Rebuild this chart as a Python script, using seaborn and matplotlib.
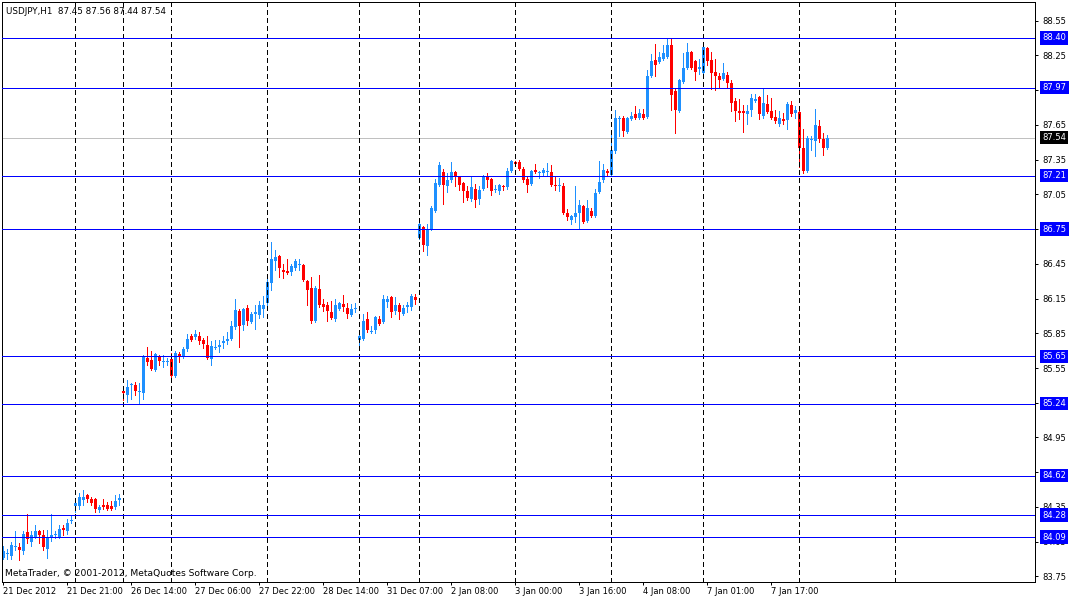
import numpy as np
import pandas as pd
import matplotlib
matplotlib.use("Agg")
import matplotlib.pyplot as plt
import seaborn as sns
from matplotlib.transforms import blended_transform_factory

header_text = "USDJPY,H1  87.45 87.56 87.44 87.54"
copyright_text = "MetaTrader, \u00a9 2001-2012, MetaQuotes Software Corp."

opens = [83.91, 83.94, 83.93, 84.00, 84.00, 83.97, 84.13, 84.05, 84.09, 84.14,
         84.11, 83.99, 84.09, 84.11, 84.09, 84.17, 84.14, 84.23, 84.36, 84.36,
         84.41, 84.45, 84.42, 84.42, 84.32, 84.37, 84.37, 84.36, 84.35, 84.41,
         85.35, 85.32, 85.40, 85.40, 85.34, 85.33, 85.64, 85.62, 85.53, 85.65,
         85.60, 85.60, 85.63, 85.48, 85.67, 85.65, 85.71, 85.83, 85.82, 85.83,
         85.79, 85.75, 85.63, 85.72, 85.73, 85.77, 85.78, 85.80, 85.90, 86.04,
         85.92, 86.07, 85.95, 86.02, 86.01, 86.06, 86.11, 86.28, 86.47, 86.52,
         86.40, 86.39, 86.38, 86.41, 86.44, 86.44, 86.30, 86.24, 85.96, 86.23,
         86.10, 86.09, 86.03, 85.97, 86.06, 86.10, 86.07, 86.01, 86.06, 85.79,
         85.80, 85.97, 85.86, 85.88, 85.97, 85.95, 86.12, 86.16, 86.04, 86.09,
         86.02, 86.08, 86.08, 86.16, 86.67, 86.77, 86.60, 86.75, 86.91, 87.13,
         87.24, 87.12, 87.17, 87.24, 87.20, 87.15, 87.08, 87.01, 87.10, 87.01,
         87.10, 87.21, 87.18, 87.09, 87.08, 87.12, 87.11, 87.25, 87.33, 87.33,
         87.27, 87.18, 87.14, 87.26, 87.23, 87.23, 87.24, 87.24, 87.13, 87.12,
         87.12, 86.89, 86.83, 86.85, 86.89, 86.95, 86.82, 86.91, 86.86, 87.07,
         87.17, 87.25, 87.22, 87.42, 87.70, 87.71, 87.59, 87.70, 87.74, 87.71,
         87.74, 87.72, 88.07, 88.21, 88.19, 88.22, 88.24, 88.34, 87.94, 87.77,
         88.02, 88.14, 88.28, 88.20, 88.13, 88.10, 88.31, 88.21, 88.11, 88.07,
         88.05, 88.08, 88.01, 87.86, 87.77, 87.77, 87.74, 87.78, 87.86, 87.89,
         87.73, 87.83, 87.77, 87.72, 87.66, 87.70, 87.69, 87.82, 87.75, 87.76,
         87.45, 87.25, 87.52, 87.51, 87.64, 87.53, 87.45]
highs = [84.01, 83.99, 84.05, 84.14, 84.04, 84.14, 84.29, 84.14, 84.19, 84.15,
         84.15, 84.15, 84.29, 84.14, 84.19, 84.19, 84.25, 84.27, 84.43, 84.47,
         84.50, 84.46, 84.44, 84.43, 84.37, 84.42, 84.39, 84.40, 84.45, 84.46,
         85.36, 85.45, 85.42, 85.43, 85.42, 85.66, 85.73, 85.70, 85.68, 85.66,
         85.66, 85.64, 85.68, 85.70, 85.69, 85.73, 85.84, 85.84, 85.88, 85.86,
         85.81, 85.83, 85.78, 85.79, 85.79, 85.83, 85.86, 85.96, 86.15, 86.06,
         86.07, 86.09, 86.03, 86.09, 86.13, 86.17, 86.36, 86.64, 86.57, 86.53,
         86.45, 86.49, 86.45, 86.49, 86.49, 86.45, 86.31, 86.34, 86.26, 86.35,
         86.15, 86.12, 86.13, 86.15, 86.12, 86.18, 86.11, 86.10, 86.11, 85.88,
         86.02, 86.03, 85.91, 86.00, 86.00, 86.18, 86.17, 86.17, 86.16, 86.11,
         86.09, 86.12, 86.19, 86.19, 86.84, 86.78, 86.79, 86.95, 87.18, 87.33,
         87.27, 87.23, 87.33, 87.25, 87.21, 87.16, 87.12, 87.20, 87.14, 87.12,
         87.22, 87.23, 87.19, 87.13, 87.14, 87.13, 87.28, 87.35, 87.34, 87.35,
         87.29, 87.20, 87.26, 87.31, 87.25, 87.28, 87.32, 87.30, 87.20, 87.19,
         87.15, 86.92, 86.87, 87.12, 87.00, 86.96, 87.00, 86.93, 87.10, 87.34,
         87.31, 87.27, 87.56, 87.78, 87.73, 87.73, 87.72, 87.76, 87.81, 87.79,
         87.79, 88.12, 88.26, 88.35, 88.28, 88.34, 88.40, 88.40, 87.96, 88.05,
         88.27, 88.36, 88.29, 88.21, 88.22, 88.35, 88.32, 88.28, 88.22, 88.10,
         88.18, 88.11, 88.04, 87.88, 87.87, 87.82, 87.82, 87.92, 87.92, 87.90,
         87.97, 87.91, 87.88, 87.78, 87.77, 87.75, 87.85, 87.86, 87.81, 87.81,
         87.61, 87.55, 87.55, 87.79, 87.69, 87.58, 87.56]
lows = [83.90, 83.90, 83.90, 83.98, 83.89, 83.94, 84.04, 84.01, 84.08, 84.04,
        83.98, 83.91, 84.06, 84.08, 84.08, 84.11, 84.12, 84.21, 84.31, 84.33,
        84.37, 84.39, 84.37, 84.31, 84.31, 84.33, 84.32, 84.32, 84.33, 84.37,
        85.27, 85.26, 85.28, 85.32, 85.24, 85.28, 85.58, 85.53, 85.52, 85.58,
        85.56, 85.58, 85.45, 85.47, 85.60, 85.64, 85.70, 85.78, 85.80, 85.76,
        85.72, 85.63, 85.58, 85.71, 85.69, 85.72, 85.76, 85.79, 85.89, 85.73,
        85.88, 85.92, 85.94, 85.89, 85.98, 85.99, 86.05, 86.22, 86.40, 86.34,
        86.33, 86.36, 86.35, 86.40, 86.40, 86.30, 86.09, 85.94, 85.95, 86.08,
        86.04, 85.96, 85.97, 85.96, 86.05, 86.04, 85.98, 86.00, 86.03, 85.71,
        85.79, 85.86, 85.85, 85.85, 85.92, 85.94, 86.08, 85.99, 86.02, 85.97,
        86.01, 86.03, 86.05, 86.10, 86.66, 86.56, 86.53, 86.74, 86.90, 87.12,
        86.97, 87.07, 87.16, 87.12, 87.09, 86.98, 87.00, 86.99, 86.94, 86.97,
        87.09, 87.11, 87.04, 87.07, 87.05, 87.09, 87.10, 87.24, 87.30, 87.26,
        87.16, 87.07, 87.13, 87.23, 87.19, 87.21, 87.21, 87.12, 87.09, 87.08,
        86.88, 86.83, 86.79, 86.81, 86.75, 86.80, 86.81, 86.85, 86.85, 87.06,
        87.16, 87.22, 87.21, 87.41, 87.55, 87.55, 87.58, 87.69, 87.70, 87.70,
        87.70, 87.71, 88.06, 88.07, 88.18, 88.21, 88.23, 87.78, 87.58, 87.76,
        88.01, 88.13, 88.13, 88.04, 88.09, 88.09, 88.17, 87.96, 87.95, 87.98,
        88.04, 87.97, 87.77, 87.68, 87.70, 87.59, 87.66, 87.73, 87.85, 87.70,
        87.71, 87.75, 87.70, 87.67, 87.64, 87.66, 87.61, 87.73, 87.71, 87.29,
        87.23, 87.24, 87.43, 87.38, 87.50, 87.39, 87.44]
closes = [83.97, 83.95, 84.02, 84.01, 83.98, 84.12, 84.07, 84.11, 84.14, 84.11,
          84.00, 84.09, 84.11, 84.12, 84.16, 84.15, 84.21, 84.24, 84.38, 84.44,
          84.44, 84.42, 84.38, 84.33, 84.35, 84.35, 84.33, 84.33, 84.40, 84.43,
          85.33, 85.39, 85.41, 85.35, 85.35, 85.65, 85.60, 85.54, 85.67, 85.61,
          85.61, 85.61, 85.48, 85.68, 85.65, 85.71, 85.80, 85.79, 85.84, 85.78,
          85.76, 85.64, 85.74, 85.73, 85.75, 85.78, 85.80, 85.91, 86.05, 85.91,
          86.06, 85.96, 86.02, 86.03, 86.09, 86.09, 86.29, 86.49, 86.51, 86.41,
          86.38, 86.37, 86.43, 86.47, 86.45, 86.31, 86.22, 85.96, 86.24, 86.09,
          86.08, 86.04, 85.98, 86.09, 86.11, 86.08, 86.02, 86.06, 86.07, 85.83,
          85.96, 85.88, 85.87, 85.99, 85.93, 86.15, 86.15, 86.03, 86.09, 86.03,
          86.07, 86.09, 86.17, 86.14, 86.79, 86.61, 86.75, 86.93, 87.15, 87.30,
          87.13, 87.17, 87.24, 87.21, 87.13, 87.08, 87.02, 87.11, 87.00, 87.09,
          87.21, 87.17, 87.08, 87.10, 87.13, 87.11, 87.25, 87.34, 87.31, 87.27,
          87.17, 87.13, 87.25, 87.24, 87.24, 87.26, 87.25, 87.13, 87.12, 87.13,
          86.89, 86.85, 86.86, 86.89, 86.96, 86.81, 86.93, 86.86, 87.06, 87.16,
          87.26, 87.23, 87.43, 87.71, 87.71, 87.60, 87.71, 87.73, 87.71, 87.75,
          87.71, 88.07, 88.20, 88.17, 88.24, 88.27, 88.34, 87.91, 87.78, 88.04,
          88.14, 88.28, 88.14, 88.11, 88.15, 88.32, 88.20, 88.10, 88.07, 88.04,
          88.10, 88.01, 87.84, 87.77, 87.75, 87.75, 87.77, 87.88, 87.87, 87.74,
          87.84, 87.76, 87.71, 87.68, 87.71, 87.68, 87.83, 87.74, 87.78, 87.45,
          87.25, 87.54, 87.53, 87.65, 87.53, 87.45, 87.54]

x_tick_bars = [0, 16, 32, 48, 64, 80, 96, 112, 128, 144, 160, 176, 192]
x_tick_labels = ["21 Dec 2012", "21 Dec 21:00", "26 Dec 14:00", "27 Dec 06:00",
                 "27 Dec 22:00", "28 Dec 14:00", "31 Dec 07:00", "2 Jan 08:00",
                 "3 Jan 00:00", "3 Jan 16:00", "4 Jan 08:00", "7 Jan 01:00",
                 "7 Jan 17:00"]
separator_bars = [18, 30, 42, 66, 89, 104, 128, 152, 175, 199, 223]
level_values = [88.40, 87.97, 87.21, 86.75, 85.65, 85.24, 84.62, 84.28, 84.09]
bid_value = 87.54
y_tick_values = [83.75, 84.05, 84.35, 84.65, 84.95, 85.25, 85.55, 85.85, 86.15,
                 86.45, 86.75, 87.05, 87.35, 87.65, 87.95, 88.25, 88.55]
# tick labels fully hidden behind the level boxes in the reference
hidden_tick_labels = [84.65, 85.25, 86.75, 87.95]

sns.set_theme(style="white")
plt.rcParams["font.family"] = ["DejaVu Sans"]

df = pd.DataFrame({"open": opens, "high": highs, "low": lows, "close": closes})
df["bar"] = np.arange(len(df))
df["bull"] = df["close"] >= df["open"]
df["body_low"] = df[["open", "close"]].min(axis=1)
df["body_h"] = (df["close"] - df["open"]).abs().clip(lower=0.006)

BULL = "#1E90FF"
BEAR = "#FF0000"
colors = np.where(df["bull"], BULL, BEAR)
PX = 0.72  # one pixel in points at 100 dpi

fig = plt.figure(figsize=(10.75, 5.99), dpi=100, facecolor="white")
ax = fig.add_axes([2 / 1075, 17 / 599, 1033 / 1075, 580.5 / 599])
ax.set_facecolor("white")

ax.axhline(bid_value, color="#C0C0C0", lw=PX, zorder=1, antialiased=False)

ax.vlines(df["bar"], df["low"], df["high"], colors=colors, lw=PX, zorder=2,
          antialiased=False)
ax.bar(df["bar"], df["body_h"], bottom=df["body_low"], width=0.75, color=colors,
       linewidth=0, zorder=2.1, antialiased=False)

for b in separator_bars:
    ax.axvline(b, color="black", lw=PX, dashes=(5, 4), zorder=3, antialiased=False)
for v in level_values:
    ax.axhline(v, color="#0000FF", lw=PX, zorder=3, antialiased=False)

ax.set_xlim(-0.25, 258.0)
ax.set_ylim(83.702, 88.715)

ax.yaxis.tick_right()
ax.set_yticks(y_tick_values)
ax.set_yticklabels(["" if v in hidden_tick_labels else f"{v:.2f}"
                    for v in y_tick_values])
ax.set_xticks(x_tick_bars)
ax.set_xticklabels(x_tick_labels, ha="left")
ax.tick_params(axis="y", which="major", direction="out", length=2.2, width=PX,
               pad=3.2, labelsize=6, colors="black", right=True, left=False)
ax.tick_params(axis="x", which="major", direction="out", length=2.2, width=PX,
               pad=1.2, labelsize=6, colors="black", bottom=True)
for s in ax.spines.values():
    s.set_color("black")
    s.set_linewidth(PX)
ax.grid(False)

trans = blended_transform_factory(ax.transAxes, ax.transData)
for v in level_values:
    ax.annotate(f"{v:.2f}", xy=(1.0, v), xycoords=trans, xytext=(5.4, 0),
                textcoords="offset points", ha="left", va="center", fontsize=6,
                color="white", zorder=5, annotation_clip=False,
                bbox=dict(boxstyle="square,pad=0.25", fc="#0000FF", ec="none"))
ax.annotate(f"{bid_value:.2f}", xy=(1.0, bid_value), xycoords=trans,
            xytext=(5.4, 0), textcoords="offset points", ha="left", va="center",
            fontsize=6, color="white", zorder=5, annotation_clip=False,
            bbox=dict(boxstyle="square,pad=0.25", fc="black", ec="none"))

fig.text(6 / 1075, 1 - 11 / 599, header_text, ha="left", va="center",
         fontsize=6.3, color="black")
fig.text(5 / 1075, 1 - 574 / 599, copyright_text, ha="left", va="center",
         fontsize=6.6, color="black")

fig.savefig("out.png", dpi=100, facecolor="white")
